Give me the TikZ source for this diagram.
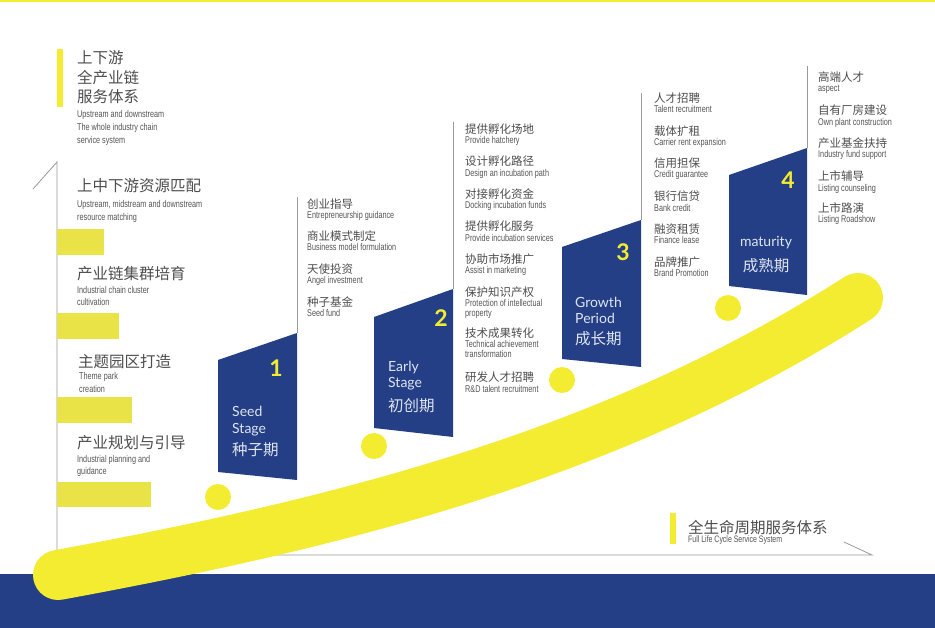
\documentclass[tikz,border=0pt]{standalone}
\usepackage{fontspec}
\setmainfont{Liberation Sans}
\newfontfamily\zhf{Noto Sans CJK SC}
\newfontfamily\cnd[FakeStretch=0.74]{Liberation Sans}
\newfontfamily\stgf{Lato}
\definecolor{navy}{RGB}{36,63,134}
\definecolor{ylw}{RGB}{244,236,48}
\definecolor{ylwbox}{RGB}{233,227,72}
\definecolor{txt}{RGB}{78,78,78}
\definecolor{txtl}{RGB}{85,85,85}
\definecolor{axisc}{RGB}{155,155,155}
\definecolor{stgtxt}{RGB}{222,228,240}
\tikzset{
  zhbig/.style={anchor=base west, inner sep=0, font=\zhf\fontsize{15.5}{19}\selectfont, text=txt},
  zhsm/.style={anchor=base west, inner sep=0, font=\zhf\fontsize{11.5}{14}\selectfont, text=txt},
  ensm/.style={anchor=base west, inner sep=0, font=\cnd\fontsize{9.8}{11}\selectfont, text=txtl},
  stagebox/.style={fill=navy, draw=none},
  stagenum/.style={inner sep=0, font=\stgf\bfseries\fontsize{23}{25}\selectfont, text=ylw},
  stageen/.style={anchor=base west, inner sep=0, font=\stgf\fontsize{14}{16}\selectfont, text=stgtxt},
  stagezh/.style={anchor=base west, inner sep=0, font=\zhf\fontsize{15.5}{18}\selectfont, text=stgtxt},
  dot/.style={fill=ylw, draw=none},
  axisline/.style={draw=axisc, line width=0.8pt},
  ybar/.style={fill=ylwbox, draw=none}
}
\begin{document}
\begin{tikzpicture}[x=1pt,y=-1pt]
\useasboundingbox (0,0) rectangle (935,628);
\fill[white] (0,0) rectangle (935,628);
% top yellow line
\fill[ylw] (0,0) rectangle (935,2.5);
% bottom band
\fill[navy] (0,574) rectangle (935,628);

% axis
\draw[axisline] (33,189) -- (57,162) -- (57,555) -- (872,555) -- (844,542);
% column dividers
\draw[axisline] (297,197) -- (297,333);
\draw[axisline] (453,122) -- (453,289);
\draw[axisline] (641,93) -- (641,220);
\draw[axisline] (807,66) -- (807,148);

% title block
\fill[ylw] (57,49) rectangle (63,107);
\node[zhbig] (t1) at (77,64) {上下游};
\node[zhbig] (t2) at (77,84) {全产业链};
\node[zhbig] (t3) at (77,103) {服务体系};
\node[ensm] (t4) at (77,118) {Upstream and downstream};
\node[ensm] (t5) at (77,131) {The whole industry chain};
\node[ensm] (t6) at (77,144) {service system};

% left column
\node[zhbig] (l1) at (77,192) {上中下游资源匹配};
\node[ensm] (l1a) at (77,208) {Upstream, midstream and downstream};
\node[ensm] (l1b) at (77,221) {resource matching};
\fill[ybar] (57,229) rectangle (104,255);
\node[zhbig] (l2) at (77,280) {产业链集群培育};
\node[ensm] (l2a) at (77,294) {Industrial chain cluster};
\node[ensm] (l2b) at (77,306) {cultivation};
\fill[ybar] (57,313) rectangle (119,339);
\node[zhbig] (l3) at (78,368) {主题园区打造};
\node[ensm] (l3a) at (79,380) {Theme park};
\node[ensm] (l3b) at (79,392) {creation};
\fill[ybar] (57,397) rectangle (132,423);
\node[zhbig] (l4) at (77,449) {产业规划与引导};
\node[ensm] (l4a) at (77,462) {Industrial planning and};
\node[ensm] (l4b) at (77,475) {guidance};
\fill[ybar] (57,482) rectangle (151,507);

% stage boxes
\fill[stagebox] (218,360) -- (297,333) -- (297,480) -- (218,472) -- cycle;
\fill[stagebox] (374,317) -- (453,289) -- (453,437) -- (374,428) -- cycle;
\fill[stagebox] (562,247) -- (641,220) -- (641,367) -- (562,359) -- cycle;
\fill[stagebox] (729,175) -- (807,148) -- (807,295) -- (729,286) -- cycle;

\node[stagenum] (n1) at (276,368) {1};
\node[stagenum] (n2) at (441,318) {2};
\node[stagenum] (n3) at (623,252) {3};
\node[stagenum] (n4) at (788,180) {4};

\node[stageen] (s1a) at (232,417) {Seed};
\node[stageen] (s1b) at (232,433) {Stage};
\node[stagezh] (s1c) at (232,455) {种子期};
\node[stageen] (s2a) at (388,372) {Early};
\node[stageen] (s2b) at (388,388) {Stage};
\node[stagezh] (s2c) at (388,412) {初创期};
\node[stageen] (s3a) at (575,308) {Growth};
\node[stageen] (s3b) at (575,324) {Period};
\node[stagezh] (s3c) at (575,345) {成长期};
\node[stageen, anchor=base] (s4a) at (766,247) {maturity};
\node[stagezh, anchor=base] (s4b) at (766,272) {成熟期};

% column 1
\foreach[count=\i] \a/\b/\c in {208.5/创业指导/Entrepreneurship guidance, 240.5/商业模式制定/Business model formulation, 273.5/天使投资/Angel investment, 306.5/种子基金/Seed fund}{
  \node[zhsm] (ca\i) at (307,\a) {\b};
  \node[ensm] (cae\i) at (307,\a+10.5) {\c};
}
% column 2
\foreach[count=\i] \a/\b/\c/\d in {133.5/提供孵化场地/Provide hatchery/, 166/设计孵化路径/Design an incubation path/, 198.5/对接孵化资金/Docking incubation funds/, 231/提供孵化服务/Provide incubation services/, 263.5/协助市场推广/Assist in marketing/, 296.5/保护知识产权/Protection of intellectual/property, 337.5/技术成果转化/Technical achievement/transformation, 381.5/研发人才招聘/R\&D talent recruitment/}{
  \node[zhsm] (cb\i) at (465,\a) {\b};
  \node[ensm] (cbe\i) at (465,\a+10.5) {\c};
  \node[ensm] (cbf\i) at (465,\a+20.5) {\d};
}
% column 3
\foreach[count=\i] \a/\b/\c in {102.5/人才招聘/Talent recruitment, 135.5/载体扩租/Carrier rent expansion, 167.5/信用担保/Credit guarantee, 201/银行信贷/Bank credit, 233.5/融资租赁/Finance lease, 266.5/品牌推广/Brand Promotion}{
  \node[zhsm] (cc\i) at (654,\a) {\b};
  \node[ensm] (cce\i) at (654,\a+10.5) {\c};
}
% column 4
\foreach[count=\i] \a/\b/\c in {81.5/高端人才/aspect, 115/自有厂房建设/Own plant construction, 147.5/产业基金扶持/Industry fund support, 181/上市辅导/Listing counseling, 212.5/上市路演/Listing Roadshow}{
  \node[zhsm] (cd\i) at (818,\a) {\b};
  \node[ensm] (cde\i) at (818,\a+10.5) {\c};
}

% bottom right label
\fill[ylw] (670,513) rectangle (676,544);
\node[zhbig] (fl1) at (688,533) {全生命周期服务体系};
\node[ensm, font=\cnd\fontsize{9.4}{10}\selectfont] (fl2) at (688,542) {Full Life Cycle Service System};

% dots
\fill[dot] (218,497) circle (13);
\fill[dot] (374,446) circle (13);
\fill[dot] (562,380) circle (13);
\fill[dot] (728,308) circle (13);

% big yellow curve
\draw[ylw, line width=50, line cap=round] (58,575) .. controls (358,520) and (620,450) .. (858,298);
\end{tikzpicture}
\end{document}
